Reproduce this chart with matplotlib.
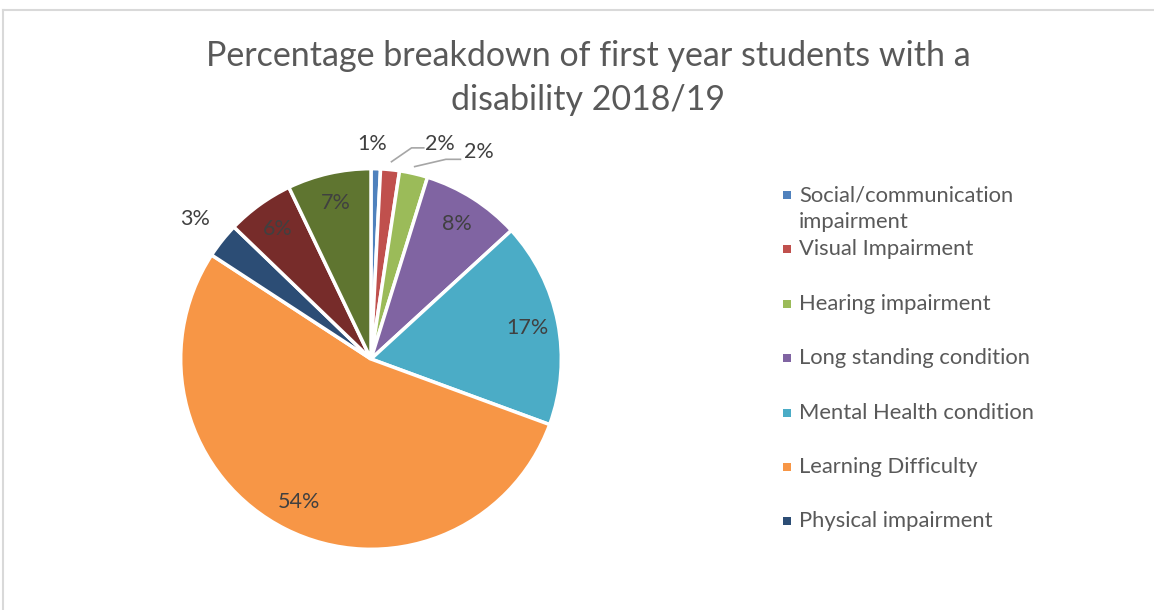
import matplotlib
matplotlib.use("Agg")
import matplotlib.pyplot as plt
import numpy as np
from matplotlib.lines import Line2D
from matplotlib.patches import Rectangle

categories = ["Social/communication\nimpairment", "Visual Impairment", "Hearing impairment",
              "Long standing condition", "Mental Health condition", "Learning Difficulty",
              "Physical impairment", "Other condition", "Multiple impairments"]
values = [0.8, 1.6, 2.4, 8.4, 17.4, 53.6, 3.0, 5.7, 7.1]
colors = ["#4F81BD", "#C0504D", "#9BBB59", "#8064A2", "#4BACC6", "#F79646",
          "#2C4D75", "#772C2A", "#5F7530"]
legend_count = 7  # legend in reference is truncated after seven entries

W, H = 1154, 610
fig = plt.figure(figsize=(W / 100, H / 100), dpi=100)
fig.patch.set_facecolor("white")
plt.rcParams['font.family'] = ['Lato', 'DejaVu Sans']

# frame
fig.add_artist(Line2D([3 / W, 1], [1 - 10 / H, 1 - 10 / H], color="#D9D9D9", lw=1.5))
fig.add_artist(Line2D([3 / W, 3 / W], [0, 1 - 10 / H], color="#D9D9D9", lw=1.5))

# pie axes
cx, cy, R = 371, 359, 183
k = 1.3
size = 2 * k * R
ax = fig.add_axes([(cx - k * R) / W, (H - cy - k * R) / H, size / W, size / H])
ax.set_xlim(-k, k)
ax.set_ylim(-k, k)
ax.set_aspect("equal")
ax.axis("off")

wedges, texts, autotexts = ax.pie(values, colors=colors, startangle=90, counterclock=False,
                                  radius=1.0, autopct="%.0f%%", pctdistance=0.84,
                                  wedgeprops=dict(edgecolor="white", linewidth=2.5),
                                  textprops=dict(fontsize=15.5, color="#404040"))

def px(x, y):
    return ((x - cx) / R, (cy - y) / R)

# move small-slice labels outside
outside = {0: (372, 152), 1: (437, 152), 2: (475, 160), 6: (202, 224)}
for i, p in outside.items():
    autotexts[i].set_position(px(*p))
    autotexts[i].set_ha("center")
    autotexts[i].set_va("center")

for pts in [[(390.7, 169.3), (410, 156), (421.7, 156)],
            [(413, 174), (443, 167), (457, 167)]]:
    xy = np.array([px(*p) for p in pts])
    ax.plot(xy[:, 0], xy[:, 1], color="#A6A6A6", lw=1.2)

# title
fig.text(588 / W, 1 - 56 / H, "Percentage breakdown of first year students with a",
         ha="center", va="center", fontsize=24.5, color="#595959")
fig.text(588 / W, 1 - 100 / H, "disability 2018/19",
         ha="center", va="center", fontsize=24.5, color="#595959")

# legend (manual)
y0, step = 195, 54.4
for i in range(legend_count):
    y = y0 + step * i
    fig.add_artist(Rectangle((783 / W, 1 - (y + 4) / H), 8 / W, 8 / H,
                             facecolor=colors[i], edgecolor="none"))
    lines = categories[i].split("\n")
    for j, ln in enumerate(lines):
        fig.text(799 / W, 1 - (y + 27 * j) / H, ln, ha="left", va="center",
                 fontsize=15.8, color="#595959")

fig.savefig("out.png", dpi=100)
